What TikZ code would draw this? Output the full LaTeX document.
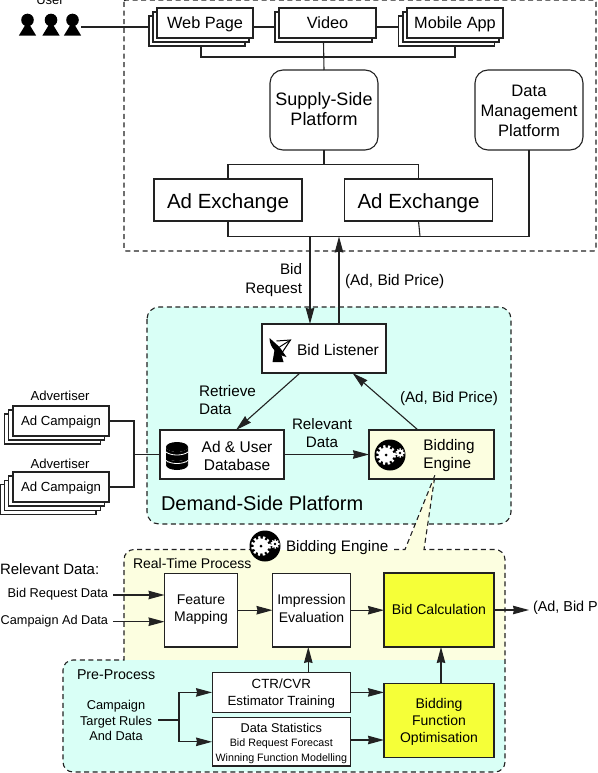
\documentclass[tikz,border=0pt]{standalone}
\usepackage{fontspec}
\setmainfont{Liberation Sans}
\usetikzlibrary{arrows.meta}
\definecolor{cyanbg}{HTML}{D9FFF6}
\definecolor{paleyel}{HTML}{FCFEE0}
\definecolor{brightyel}{HTML}{F5FF38}
\definecolor{ink}{HTML}{222222}
\newcommand{\fs}[2]{\fontsize{#1}{#2}\selectfont}
\tikzset{
  base/.style={line width=1.1pt,draw=ink},
  boxn/.style={base,fill=white,rectangle,inner sep=0pt,outer sep=0pt,align=center},
  rbox/.style={boxn,rounded corners=13pt},
  lab/.style={inner sep=0pt,outer sep=0pt,text=black,align=center},
  lnk/.style={base},
  arr/.style={base,-{Stealth[length=16pt,width=8.5pt,inset=1pt]}},
  dsh/.style={line width=1.1pt,draw=ink,dash pattern=on 5pt off 3.6pt},
  persona/.pic={
    \fill[black] (0,-7.5) circle (6.3pt);
    \fill[black] (-2.5,-2) -- (2.5,-2) -- (8.7,8.2) -- (-8.7,8.2) -- cycle;
  },
  gearicon/.pic={
    \fill[black] (0,0) circle (15.5pt);
    \fill[white] (-4,0) circle (7.5pt);
    \draw[white,line width=3pt,dash pattern=on 2.2pt off 2.4pt] (-4,0) circle (8.5pt);
    \fill[black] (-4,0) circle (1.5pt);
    \fill[white] (10,-2) circle (3.6pt);
    \draw[white,line width=1.4pt,dash pattern=on 1.2pt off 1.4pt] (10,-2) circle (4pt);
    \fill[black] (10,-2) circle (1.3pt);
  },
  dishicon/.pic={
    \fill[black] (-11,-11) .. controls (-11,-1) and (-3,6) .. (6,8) -- (-1,-2) -- cycle;
    \fill[black] (-6,1) -- (-8,13) -- (3,13) -- (1,6) -- cycle;
    \draw[black,line width=1pt] (-4,-8) -- (10,-9) -- (2,3);
    \draw[black,line width=1pt] (-1,-2) -- (10,-9);
  },
  dbicon/.pic={
    \fill[black] (-11,-9) arc[start angle=180,end angle=360,x radius=11pt,y radius=5pt]
      -- (11,9) arc[start angle=0,end angle=180,x radius=11pt,y radius=5pt] -- cycle;
    \fill[black] (0,-9) ellipse (11pt and 5pt);
    \fill[black] (0,9) ellipse (11pt and 5pt);
    \draw[white,line width=.8pt] (-11,-4) .. controls (-6,0) and (6,0) .. (11,-4);
    \draw[white,line width=.8pt] (-11,4.5) .. controls (-6,8.5) and (6,8.5) .. (11,4.5);
  }
}
\begin{document}
\begin{tikzpicture}[x=1pt,y=-1pt]
\useasboundingbox (0,0) rectangle (597,773);

% regions
\draw[dsh,rounded corners=2pt] (124,0) rectangle (596,251);
\draw[dsh,fill=cyanbg,rounded corners=12pt] (147,307) rectangle (511,524);
\fill[paleyel] (124,660) [rounded corners=10pt] -- (124,550) -- (505,550) [sharp corners] -- (505,660) -- cycle;
\fill[cyanbg] (505,660) [rounded corners=10pt] -- (505,772) -- (63,772) -- (63,660) [sharp corners] -- cycle;

% user
\pic at (27.5,27.5) {persona};
\pic at (51,27.5) {persona};
\pic at (72.5,27.5) {persona};
\node[lab,anchor=base,font=\fs{13}{15}] (userlab) at (50,5) {User};
\coordinate (user) at (81,27);

% stacks
\node[boxn,minimum width=96pt,minimum height=30pt] (web3) at (197,31) {};
\node[boxn,minimum width=96pt,minimum height=30pt] (web2) at (201,27) {};
\node[boxn,minimum width=96pt,minimum height=30pt,font=\fs{16.3}{18},text depth=0pt] (web) at (205,23) {Web Page};
\node[boxn,minimum width=97pt,minimum height=30pt] (vid2) at (323.5,27) {};
\node[boxn,minimum width=97pt,minimum height=30pt,font=\fs{16.3}{18},text depth=0pt] (vid) at (327.5,23) {Video};
\node[boxn,minimum width=96pt,minimum height=30pt] (mob3) at (446.5,31) {};
\node[boxn,minimum width=96pt,minimum height=30pt] (mob2) at (451,27) {};
\node[boxn,minimum width=96pt,minimum height=30pt,font=\fs{16.3}{18},text depth=0pt] (mob) at (455,23) {Mobile App};

\node[rbox,minimum width=108pt,minimum height=80pt] (ssp) at (324,110) {};
\node[lab,font=\fs{18}{20}] (ssptext) at (324,109.5) {Supply-Side\\Platform};
\node[rbox,minimum width=108pt,minimum height=80pt] (dmp) at (529,110) {};
\node[lab,font=\fs{16.6}{20}] (dmptext) at (529,111) {Data\\Management\\Platform};
\node[boxn,minimum width=148pt,minimum height=42pt] (ax1) at (228,200) {};
\node[lab,font=\fs{20.5}{23},text depth=0pt] (ax1text) at (228,201) {Ad Exchange};
\node[boxn,minimum width=148pt,minimum height=42pt] (ax2) at (418.5,200) {};
\node[lab,font=\fs{20.5}{23},text depth=0pt] (ax2text) at (418.5,201) {Ad Exchange};

\coordinate (hweb) at (324,57);
\coordinate (spl) at (324,164.5);
\coordinate (exb) at (420,236.5);
\draw[lnk] (user) -- (user -| web3.west);
\draw[lnk] (web.east |- user) -- (user -| vid2.west);
\draw[lnk] (vid.east |- user) -- (user -| mob3.west);
\draw[lnk] ([xshift=4pt]web3.south) |- (hweb) -| ([xshift=8.5pt]mob3.south);
\draw[lnk] (vid2.south) -- (ssp.north);
\draw[lnk] (ssp.south) -- (spl);
\draw[lnk] (ax1.north) |- (spl) -| (ax2.north);
\draw[lnk] (ax1.south) |- (exb) -| (dmp.south);
\draw[lnk] (ax2.south) -- (exb);

% DSP
\node[boxn,minimum width=124pt,minimum height=49pt] (bl) at (324,348.5) {};
\pic at (280.5,349) {dishicon};
\node[lab,font=\fs{15.5}{18}] (bltext) at (338,350) {Bid Listener};
\node[boxn,minimum width=124pt,minimum height=49pt] (db) at (222,454.5) {};
\pic at (177,456) {dbicon};
\node[lab,font=\fs{15.5}{18}] (dbtext) at (237,456) {Ad \& User\\Database};
\node[boxn,fill=paleyel,minimum width=125pt,minimum height=49pt] (be) at (431.5,454.5) {};
\pic at (390,455) {gearicon};

% callout + outline of bidding engine panel
\fill[paleyel] (435,475) -- (405,551) -- (424,551) -- cycle;
\node[lab,align=left,font=\fs{15.3}{18}] (betext) at (449,456) {Bidding\\Engine};
\coordinate (olstart) at (394,549.5);
\coordinate (olend) at (252,549.5);
\draw[dsh] (olstart) -- (405,549.5) -- (435,475) -- (424,549.5) [rounded corners=10pt] -- (505,549.5) -- (505,772) -- (63,772) -- (63,660) [sharp corners] -- (124,660) [rounded corners=10pt] -- (124,549.5) -- (olend);

\coordinate (brs) at (310,237);
\coordinate (rbp) at (339,236.5);
\draw[arr] (brs) -- (brs |- bl.north);
\draw[arr] (rbp |- bl.north) -- (rbp);
\draw[arr] ([xshift=-24pt]bl.south) -- ([xshift=14pt]db.north);
\draw[arr] (be.west -| db.east) -- (be.west);
\draw[arr] ([xshift=-13.5pt]be.north) -- ([xshift=28.5pt]bl.south);

\node[lab,align=right,anchor=east,font=\fs{15.2}{18.5}] (brlab) at (302,280) {Bid\\Request};
\node[lab,anchor=west,font=\fs{15.4}{18}] (ablab1) at (345,282) {(Ad, Bid Price)};
\node[lab,align=left,anchor=west,font=\fs{15.3}{18}] (rdlab) at (199,400.5) {Retrieve\\Data};
\node[lab,font=\fs{15.2}{18}] (rellab) at (322,433) {Relevant\\Data};
\node[lab,anchor=west,font=\fs{15.2}{18}] (ablab2) at (400,398.5) {(Ad, Bid Price)};
\node[lab,anchor=west,font=\fs{20}{23}] (dsplab) at (161,503) {Demand-Side Platform};

% advertisers
\node[lab,font=\fs{13.1}{15}] (adv1) at (60,396) {Advertiser};
\node[boxn,minimum width=96pt,minimum height=30pt] (c13) at (52.5,429) {};
\node[boxn,minimum width=96pt,minimum height=30pt] (c12) at (56.8,425) {};
\node[boxn,minimum width=96pt,minimum height=30pt,font=\fs{13.2}{15},text depth=0pt] (c1) at (61,421) {Ad Campaign};
\node[lab,font=\fs{13.1}{15}] (adv2) at (60,464) {Advertiser};
\node[boxn,minimum width=96pt,minimum height=30pt] (c24) at (48,499.5) {};
\node[boxn,minimum width=96pt,minimum height=30pt] (c23) at (52.5,495.5) {};
\node[boxn,minimum width=96pt,minimum height=30pt] (c22) at (56.8,491) {};
\node[boxn,minimum width=96pt,minimum height=30pt,font=\fs{13.2}{15},text depth=0pt] (c2) at (61,487) {Ad Campaign};
\coordinate (adj) at (134,454.5);
\draw[lnk] (c1.east) -| (adj);
\draw[lnk] (c2.east) -| (adj);
\draw[lnk] (adj) -- (db.west);

% bidding engine panel
\pic at (265,546) {gearicon};
\node[lab,anchor=west,font=\fs{15.2}{18}] (behead) at (286,548) {Bidding Engine};
\node[lab,anchor=west,font=\fs{14}{16}] (rtlab) at (133,563.5) {Real-Time Process};
\node[lab,anchor=west,font=\fs{14.2}{16}] (pplab) at (77,675) {Pre-Process};
\node[lab,anchor=west,font=\fs{15}{17}] (rdhead) at (0,569) {Relevant Data:};
\node[lab,anchor=east,font=\fs{12.8}{15}] (brd) at (108,594.5) {Bid Request Data};
\node[lab,anchor=east,font=\fs{12.7}{15}] (cad) at (108,621) {Campaign Ad Data};
\node[lab,font=\fs{12.8}{15.5}] (ctr) at (116,720.5) {Campaign\\Target Rules\\And Data};

\node[boxn,minimum width=73pt,minimum height=73.5pt] (fm) at (201,610.2) {};
\node[lab,font=\fs{14}{17.5}] (fmtext) at (201,609.5) {Feature\\Mapping};
\node[boxn,minimum width=78pt,minimum height=73.5pt] (ie) at (311.5,610.2) {};
\node[lab,font=\fs{14}{17.5}] (ietext) at (311.5,608.7) {Impression\\Evaluation};
\node[boxn,fill=brightyel,minimum width=110pt,minimum height=74pt,line width=1.4pt] (bc) at (439,610) {};
\node[lab,font=\fs{14.1}{17}] (bctext) at (439,609) {Bid Calculation};
\node[boxn,minimum width=138.5pt,minimum height=39.3pt] (est) at (281.3,692.4) {};
\node[lab,font=\fs{13.3}{17}] (esttext) at (281.3,693.2) {CTR/CVR\\Estimator Training};
\node[boxn,minimum width=138.5pt,minimum height=48.3pt] (stat) at (281.3,741.8) {};
\node[lab,font=\fs{10.7}{14.5}] (stattext) at (281.3,743.3) {{\fs{12.7}{15}Data Statistics}\\Bid Request Forecast\\Winning Function Modelling};
\node[boxn,fill=brightyel,minimum width=110pt,minimum height=74pt,line width=1.4pt] (bfo) at (439,720.7) {};
\node[lab,font=\fs{14}{17}] (bfotext) at (439,721.7) {Bidding\\Function\\Optimisation};

\coordinate (i1s) at (113,595);
\coordinate (i2s) at (113,621.7);
\coordinate (cts) at (158,720);
\coordinate (ctj) at (179,720);
\coordinate (outa) at (529,610);
\draw[arr] (i1s) -- (i1s -| fm.west);
\draw[arr] (i2s) -- (i2s -| fm.west);
\draw[arr] (fm.east) -- (ie.west);
\draw[arr] (ie.east) -- (ie.east -| bc.west);
\draw[arr] (bc.east |- outa) -- (outa);
\node[lab,anchor=west,font=\fs{14.4}{17}] (outlab) at (533,608) {(Ad, Bid P};
\draw[lnk] (cts) -- (ctj);
\draw[arr] (ctj) |- (est.west);
\draw[arr] (ctj) |- (stat.west);
\draw[arr] (est.east) -- (est.east -| bfo.west);
\draw[arr] (stat.east |- 350,740) -- (350,740 -| bfo.west);
\draw[arr] ([xshift=27pt]est.north) -- ([xshift=27pt]est.north |- ie.south);
\draw[arr] ([xshift=2pt]bfo.north) -- ([xshift=2pt]bc.south);
\end{tikzpicture}
\end{document}
